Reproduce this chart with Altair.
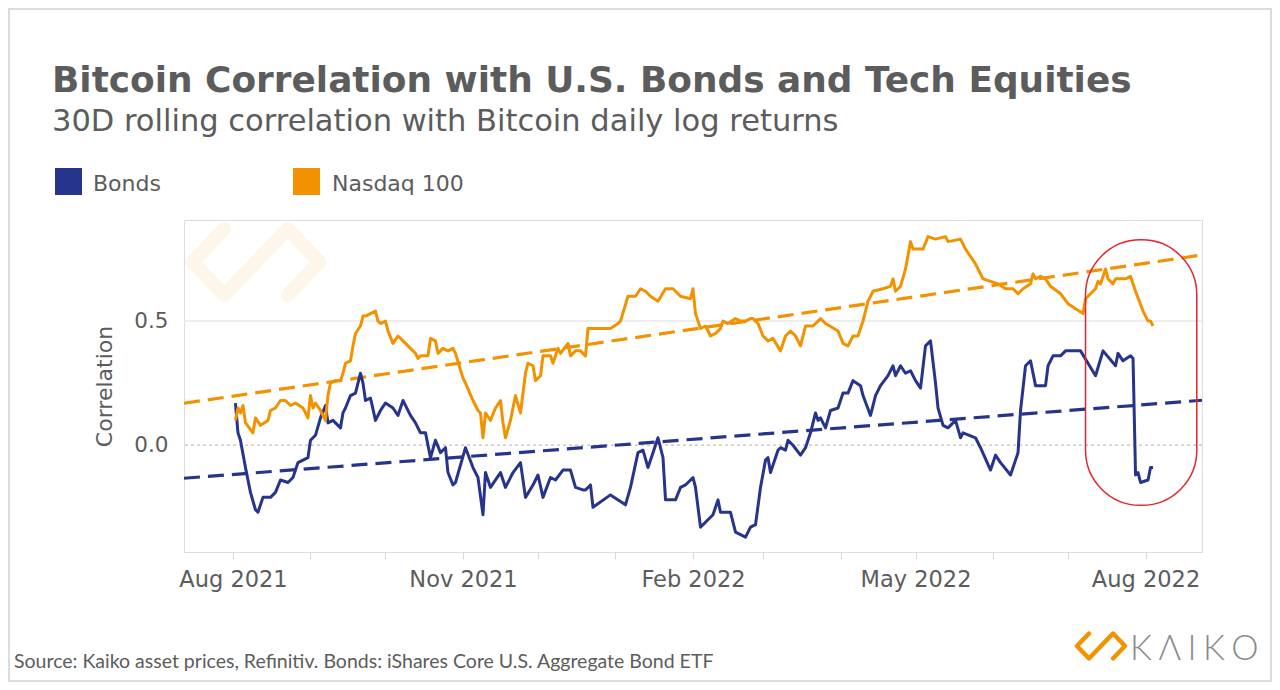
import altair as alt
import pandas as pd

START = "2021-08-01"

# ---- data (day offset from 2021-08-01, correlation) ----
bonds_day = [1, 2, 3, 5, 7, 9, 10, 12, 15, 17, 19, 22, 24, 26, 30, 31, 33, 35, 37, 38,
             40, 43, 44, 45, 47, 49, 51, 52, 53, 55, 57, 59, 61, 64, 66, 68, 71, 73, 75, 77,
             79, 81, 83, 85, 86, 88, 89, 93, 96, 98, 100, 101, 103, 107, 109, 112, 115, 117, 120, 122,
             124, 127, 129, 132, 135, 137, 140, 141, 143, 144, 151, 157, 159, 162, 164, 166, 168, 170, 172, 173,
             177, 179, 181, 184, 185, 187, 191, 192, 194, 195, 199, 201, 205, 207, 209, 211, 213, 214, 215, 218,
             219, 221, 222, 224, 227, 229, 231, 233, 234, 235, 237, 239, 242, 244, 246, 248, 251, 252, 255, 257,
             259, 262, 264, 265, 267, 269, 271, 273, 275, 277, 279, 281, 282, 284, 286, 289, 291, 292, 297, 299,
             303, 305, 307, 311, 313, 314, 315, 317, 319, 321, 325, 326, 328, 331, 333, 339, 342, 345, 348, 353,
             354, 356, 359, 360, 361, 362, 363, 366, 367, 368]
bonds_val = [0.17, 0.05, 0.02, -0.09, -0.19, -0.26, -0.27, -0.21, -0.21, -0.19, -0.14, -0.15, -0.13, -0.07, -0.05, 0.02, 0.04, 0.11, 0.16, 0.09,
             0.10, 0.07, 0.13, 0.15, 0.20, 0.21, 0.29, 0.25, 0.18, 0.19, 0.10, 0.14, 0.17, 0.15, 0.12, 0.18, 0.12, 0.09, 0.05, 0.05,
             -0.05, 0.02, -0.03, -0.01, -0.11, -0.16, -0.15, -0.01, -0.09, -0.13, -0.28, -0.11, -0.17, -0.11, -0.17, -0.11, -0.07, -0.21, -0.16, -0.12,
             -0.21, -0.13, -0.14, -0.10, -0.10, -0.17, -0.18, -0.18, -0.16, -0.25, -0.20, -0.24, -0.17, -0.03, -0.02, -0.09, -0.03, 0.03, -0.05, -0.22,
             -0.22, -0.17, -0.16, -0.13, -0.17, -0.33, -0.29, -0.28, -0.22, -0.27, -0.27, -0.35, -0.37, -0.33, -0.32, -0.17, -0.06, -0.05, -0.11, -0.02,
             -0.01, -0.02, 0.02, 0.00, -0.04, -0.01, 0.05, 0.13, 0.10, 0.11, 0.07, 0.14, 0.15, 0.21, 0.21, 0.26, 0.24, 0.20, 0.12, 0.20,
             0.24, 0.28, 0.32, 0.28, 0.32, 0.29, 0.30, 0.26, 0.23, 0.40, 0.42, 0.25, 0.15, 0.08, 0.07, 0.10, 0.03, 0.05, 0.03, -0.01,
             -0.10, -0.04, -0.07, -0.12, -0.06, -0.03, 0.14, 0.32, 0.34, 0.24, 0.24, 0.32, 0.36, 0.36, 0.38, 0.38, 0.33, 0.28, 0.38, 0.32,
             0.37, 0.34, 0.36, 0.35, -0.12, -0.11, -0.15, -0.14, -0.09, -0.09]

nasdaq_day = [1, 2, 3, 4, 5, 8, 9, 11, 14, 15, 17, 19, 21, 23, 25, 28, 30, 31, 32, 33,
              35, 37, 38, 39, 41, 43, 44, 45, 47, 48, 49, 51, 52, 53, 55, 57, 58, 59, 61, 62,
              64, 66, 68, 71, 73, 74, 75, 78, 79, 81, 82, 84, 86, 88, 89, 92, 93, 96, 98, 99,
              100, 101, 103, 105, 107, 108, 109, 111, 113, 115, 117, 118, 120, 121, 123, 124, 127, 128, 130, 131,
              134, 135, 137, 139, 141, 142, 147, 151, 154, 155, 158, 161, 163, 165, 167, 170, 173, 176, 179, 183,
              184, 185, 187, 189, 191, 193, 195, 196, 198, 201, 203, 205, 207, 208, 210, 212, 214, 216, 219, 221,
              223, 225, 227, 229, 232, 235, 237, 242, 244, 246, 248, 250, 252, 254, 256, 260, 263, 264, 265, 267,
              269, 271, 272, 276, 278, 281, 285, 286, 291, 293, 297, 300, 303, 306, 309, 312, 314, 316, 319, 320,
              321, 323, 325, 327, 331, 334, 337, 340, 341, 345, 346, 347, 349, 350, 352, 353, 357, 359, 361, 364,
              366, 367, 368]
nasdaq_val = [0.10, 0.15, 0.13, 0.16, 0.09, 0.05, 0.11, 0.08, 0.10, 0.14, 0.15, 0.18, 0.18, 0.16, 0.17, 0.15, 0.11, 0.20, 0.15, 0.17,
              0.14, 0.10, 0.20, 0.25, 0.26, 0.26, 0.29, 0.33, 0.34, 0.40, 0.45, 0.48, 0.52, 0.52, 0.53, 0.54, 0.50, 0.49, 0.50, 0.46,
              0.41, 0.44, 0.42, 0.39, 0.37, 0.35, 0.36, 0.36, 0.43, 0.42, 0.37, 0.39, 0.38, 0.39, 0.37, 0.27, 0.25, 0.18, 0.14, 0.13,
              0.03, 0.13, 0.10, 0.15, 0.18, 0.09, 0.03, 0.10, 0.20, 0.13, 0.29, 0.33, 0.32, 0.26, 0.28, 0.36, 0.36, 0.33, 0.39, 0.37,
              0.41, 0.36, 0.38, 0.38, 0.36, 0.47, 0.47, 0.47, 0.49, 0.50, 0.60, 0.60, 0.63, 0.62, 0.60, 0.58, 0.63, 0.63, 0.60, 0.59,
              0.63, 0.53, 0.47, 0.48, 0.44, 0.45, 0.47, 0.50, 0.49, 0.51, 0.50, 0.50, 0.51, 0.51, 0.49, 0.44, 0.42, 0.43, 0.38, 0.44,
              0.46, 0.44, 0.40, 0.48, 0.48, 0.51, 0.49, 0.46, 0.41, 0.40, 0.44, 0.44, 0.50, 0.58, 0.62, 0.63, 0.64, 0.67, 0.62, 0.64,
              0.71, 0.82, 0.79, 0.79, 0.84, 0.83, 0.84, 0.82, 0.83, 0.79, 0.73, 0.67, 0.66, 0.65, 0.63, 0.63, 0.61, 0.63, 0.65, 0.69,
              0.67, 0.68, 0.67, 0.64, 0.61, 0.57, 0.55, 0.53, 0.59, 0.63, 0.66, 0.65, 0.71, 0.67, 0.65, 0.67, 0.67, 0.68, 0.62, 0.54,
              0.50, 0.50, 0.48]

SERIES = ["Bonds", "Nasdaq 100"]
COLORS = ["#27348b", "#f39200"]

# dashed linear trends (end points, at the plot edges)
trend_dates = ["2021-07-12T10:00:00", "2022-08-23T14:00:00"]
bonds_trend = [-0.133, 0.181]
nasdaq_trend = [0.169, 0.766]

# highlighted window (red rounded box)
box_dates = ["2022-07-08T00:00:00", "2022-08-21T12:00:00"]
box_vals = [0.827, -0.242]

Y_TICKS = [0.0, 0.5]
GRID_VALS = [0.5]
ZERO_VALS = [0.0]

TITLE = "Bitcoin Correlation with U.S. Bonds and Tech Equities"
SUBTITLE = "30D rolling correlation with Bitcoin daily log returns"
SOURCE = "Source: Kaiko asset prices, Refinitiv. Bonds: iShares Core U.S. Aggregate Bond ETF"
BRAND = "K\u2009\u200a\u039b\u2009\u200aI\u2009\u200aK\u2009\u200aO"

FONT = "DejaVu Sans"
GREY = "#5c5c5c"

W, H = 1018, 332
PAD = {"left": 176, "top": 212, "right": 70, "bottom": 130}


def to_dates(days):
    base = pd.Timestamp(START)
    return [(base + pd.Timedelta(days=int(d))).strftime("%Y-%m-%dT00:00:00") for d in days]


lines_df = pd.concat([
    pd.DataFrame({"date": to_dates(bonds_day), "value": bonds_val, "series": SERIES[0]}),
    pd.DataFrame({"date": to_dates(nasdaq_day), "value": nasdaq_val, "series": SERIES[1]}),
], ignore_index=True)

trend_df = pd.concat([
    pd.DataFrame({"date": trend_dates, "value": bonds_trend, "series": SERIES[0]}),
    pd.DataFrame({"date": trend_dates, "value": nasdaq_trend, "series": SERIES[1]}),
], ignore_index=True)

box_df = pd.DataFrame({"d1": [box_dates[0]], "d2": [box_dates[1]],
                       "v1": [box_vals[0]], "v2": [box_vals[1]]})

xscale = alt.Scale(domain=[alt.DateTime(year=2021, month=7, date=12, hours=10),
                           alt.DateTime(year=2022, month=8, date=23, hours=14)], nice=False)
yscale = alt.Scale(domain=[-0.43, 0.907], nice=False, zero=False)
cscale = alt.Scale(domain=SERIES, range=COLORS)

month_ticks = [alt.DateTime(year=2021 + (7 + i) // 12, month=(7 + i) % 12 + 1, date=1) for i in range(13)]

xaxis = alt.Axis(values=month_ticks, format="%b %Y",
                 labelExpr="(month(datum.value) % 3 == 1) ? timeFormat(datum.value, '%b %Y') : ''",
                 grid=False, domain=False, tickColor="#d6d6d6", tickSize=7, tickWidth=1,
                 labelFontSize=22.5, labelColor=GREY, labelFont=FONT, labelPadding=9,
                 labelFlush=False, labelOverlap=False, labelBound=False, title=None)
yaxis = alt.Axis(values=Y_TICKS, format=".1f", grid=False, domain=False, ticks=False,
                 labelFontSize=21.5, labelColor=GREY, labelFont=FONT, labelPadding=16,
                 title="Correlation", titleFont=FONT, titleFontSize=22, titleFontWeight="normal",
                 titleColor=GREY, titlePadding=17)

one = pd.DataFrame({"k": [0]})

frame = alt.Chart(one).mark_rect(fill="white", fillOpacity=0, stroke="#dcdcdc", strokeWidth=2).encode(
    x=alt.value(-175), x2=alt.value(W + PAD["right"] - 1),
    y=alt.value(-211), y2=alt.value(H + PAD["bottom"] - 1))

LOGO_PATH = "M -0.5 -0.52 L -1 0 L -0.5 0.52 L 0.5 -0.52 L 1 0 L 0.5 0.52"
watermark = alt.Chart(one).mark_point(shape=LOGO_PATH, filled=False, stroke="#fef5eb",
                                      strokeWidth=14, size=16129, strokeCap="round",
                                      strokeJoin="round", opacity=1).encode(
    x=alt.value(72), y=alt.value(42))

grid = alt.Chart(pd.DataFrame({"v": GRID_VALS})).mark_rule(color="#e9e9e9", strokeWidth=1.5).encode(
    y=alt.Y("v:Q", scale=yscale, axis=yaxis))
zero = alt.Chart(pd.DataFrame({"v": ZERO_VALS})).mark_rule(color="#bdbdbd", strokeWidth=1.2,
                                                           strokeDash=[3, 3]).encode(
    y=alt.Y("v:Q", scale=yscale))

trend = alt.Chart(trend_df).mark_line(strokeWidth=3.2, strokeDash=[16, 8]).encode(
    x=alt.X("date:T", scale=xscale, axis=xaxis),
    y=alt.Y("value:Q", scale=yscale),
    color=alt.Color("series:N", scale=cscale, legend=None),
    detail="series:N")

lines = alt.Chart(lines_df).mark_line(strokeWidth=3, strokeJoin="round").encode(
    x=alt.X("date:T", scale=xscale),
    y=alt.Y("value:Q", scale=yscale),
    color=alt.Color("series:N", scale=cscale, legend=None))

box = alt.Chart(box_df).mark_rect(fill="white", fillOpacity=0, stroke="#e3262b", strokeWidth=1.5,
                                  cornerRadius=55).encode(
    x=alt.X("d1:T", scale=xscale), x2="d2:T",
    y=alt.Y("v1:Q", scale=yscale), y2="v2:Q")


def text_layer(txt, x, y, size, weight="normal", color=GREY, font=FONT, align="left"):
    return alt.Chart(one).mark_text(text=txt, align=align, baseline="alphabetic", font=font,
                                    fontSize=size, fontWeight=weight, color=color).encode(
        x=alt.value(x), y=alt.value(y))


title = text_layer(TITLE, -132, -128, 35.9, weight="bold")
subtitle = text_layer(SUBTITLE, -132, -89, 30.5)
source = text_layer(SOURCE, -170, 448, 19.5, font="Lato")
brand = text_layer(BRAND, 946, 440, 34.5, weight=300, color="#8a8a8a", font="Lato")

logo = alt.Chart(one).mark_point(shape=LOGO_PATH, filled=False, stroke="#f39200", strokeWidth=4.5,
                                 size=2304, strokeCap="round", strokeJoin="round", opacity=1).encode(
    x=alt.value(917), y=alt.value(426))

leg_sq = [alt.Chart(one).mark_square(size=729, color=COLORS[i], opacity=1).encode(
    x=alt.value(-115.5 + 238 * i), y=alt.value(-38.5)) for i in range(2)]
leg_tx = [text_layer(SERIES[i], -91 + 239 * i, -29, 22) for i in range(2)]

chart = alt.layer(
    frame, watermark, grid, zero, trend, lines, box,
    title, subtitle, *leg_sq, *leg_tx, source, logo, brand
).properties(
    width=W, height=H, padding=PAD, autosize=alt.AutoSizeParams(type="none")
).configure_view(stroke="#e6e6e6", strokeWidth=1.2).configure(background="white")

chart.save("out.html", embed_options={"renderer": "svg", "actions": False})
